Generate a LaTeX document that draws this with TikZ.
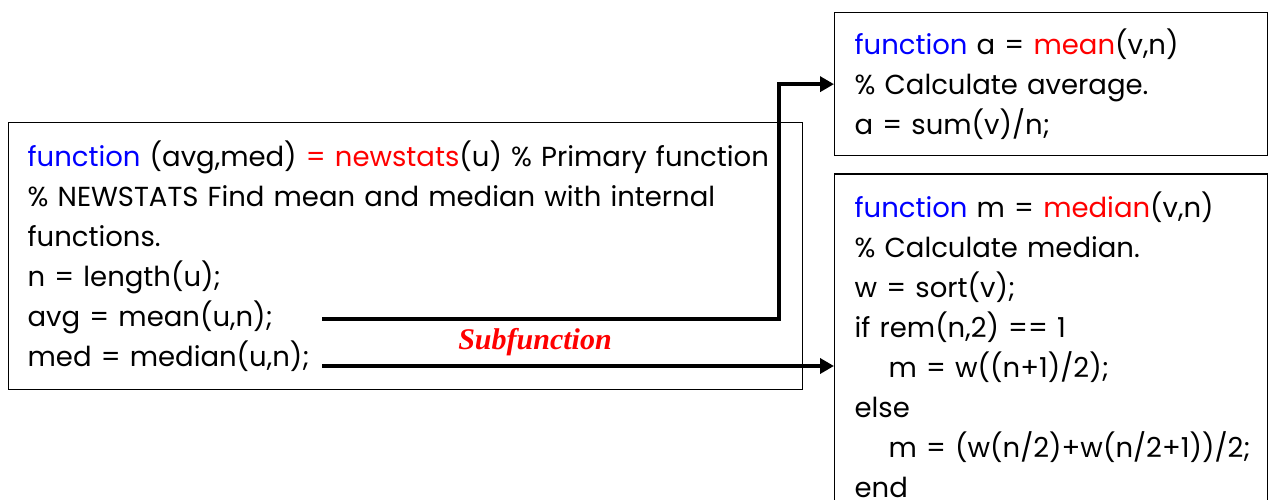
\documentclass[tikz,border=0pt]{standalone}
\usepackage{fontspec}
\setmainfont{Poppins}
\newfontfamily\labelfont{Liberation Serif}
\usepackage{xcolor}
\usetikzlibrary{positioning,arrows.meta}
\definecolor{kwblue}{RGB}{0,0,255}
\definecolor{fnred}{RGB}{255,0,0}

\begin{document}
\begin{tikzpicture}[
    x=1pt, y=-1pt,
    font=\fontsize{27.5pt}{40pt}\selectfont,
    codebox/.style={
        draw,
        line width=1.3pt,
        align=left,
        inner xsep=19pt,
        inner ysep=0pt,
        anchor=north west
    },
    arrow/.style={-{Triangle[length=14pt,width=15pt]}, line width=3.5pt},
    note/.style={font=\labelfont\bfseries\itshape\fontsize{30pt}{34pt}\selectfont, text=fnred}
]
\useasboundingbox (0,0) rectangle (1269,500);

\node[codebox, text width=756pt, minimum height=267pt] (newstats) at (8,122)
{{\color{kwblue}function} (avg,med) {\color{fnred}= newstats}(u) \% Primary function\\
\% NEWSTATS Find mean and median with internal\\
functions.\\
n = length(u);\\
avg = mean(u,n);\\
med = median(u,n);};

\node[codebox, text width=393pt, minimum height=143pt, inner xsep=20pt] (mean) at (834,12)
{{\color{kwblue}function} a = {\color{fnred}mean}(v,n)\\
\% Calculate average.\\
a = sum(v)/n;};

\node[codebox, text width=393pt, minimum height=342pt, inner xsep=20pt,
      below=17pt of mean.south west, anchor=north west] (median)
{{\color{kwblue}function} m = {\color{fnred}median}(v,n)\\
\% Calculate median.\\
w = sort(v);\\
if rem(n,2) == 1\\
\hspace*{34pt}m = w((n+1)/2);\\
else\\
\hspace*{34pt}\mbox{m = (w(n/2)+w(n/2+1))/2;}\\
end};

% free ends of the two calls
\coordinate (avgend) at (322,319);
\coordinate (medend) at (322,366);
\coordinate (bend) at (779,319);

\draw[arrow] (avgend) -- (bend) |- (mean.west);
\draw[arrow] (medend) -- (medend -| median.west);

\node[note] (sublabel) at (535,342) {Subfunction};

\end{tikzpicture}
\end{document}
